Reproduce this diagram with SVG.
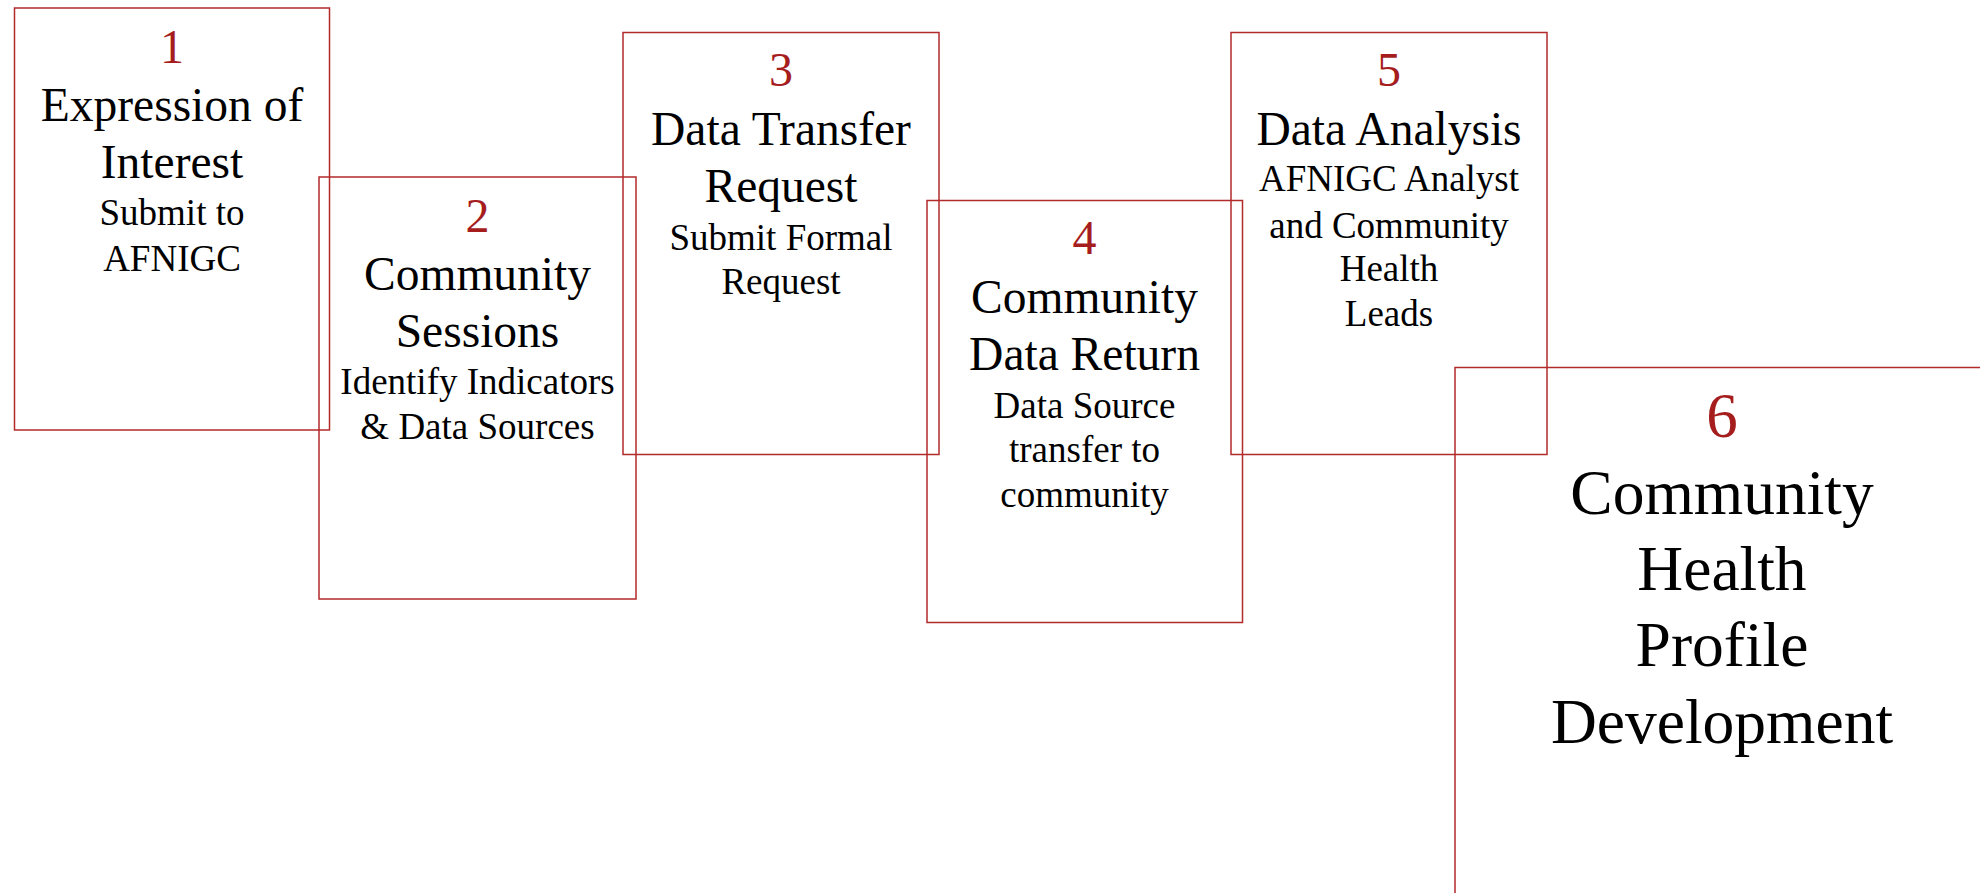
<svg xmlns="http://www.w3.org/2000/svg" width="1980" height="893" viewBox="0 0 1980 893">
  <style>
    .box { fill: none; stroke: #b32a2a; stroke-width: 1.5; }
    text { font-family: "Liberation Serif", "Times New Roman", serif; text-anchor: middle; }
    .num { fill: #a51d1d; font-size: 48px; }
    .title { fill: #000; font-size: 47.5px; }
    .sub { fill: #000; font-size: 37px; }
    .num6 { fill: #a51d1d; font-size: 63px; }
    .title6 { fill: #000; font-size: 63.5px; }
  </style>
  <rect width="1980" height="893" fill="#ffffff"/>

  <!-- step cards: outlines only, so overlapping edges stay visible -->
  <g id="step-1">
    <rect class="box" x="14.5" y="8" width="315" height="422"/>
    <text class="num" x="172" y="63">1</text>
    <text class="title" x="172" y="121">Expression of</text>
    <text class="title" x="172" y="177.5">Interest</text>
    <text class="sub" x="172" y="225">Submit to</text>
    <text class="sub" x="172" y="271">AFNIGC</text>
  </g>

  <g id="step-2">
    <rect class="box" x="319" y="177" width="317" height="422"/>
    <text class="num" x="477.5" y="232">2</text>
    <text class="title" x="477.5" y="289.5">Community</text>
    <text class="title" x="477.5" y="347">Sessions</text>
    <text class="sub" x="477.5" y="393.5">Identify Indicators</text>
    <text class="sub" x="477.5" y="439">&amp; Data Sources</text>
  </g>

  <g id="step-3">
    <rect class="box" x="623" y="32.5" width="316" height="422"/>
    <text class="num" x="781" y="86">3</text>
    <text class="title" x="781" y="144.5">Data Transfer</text>
    <text class="title" x="781" y="202">Request</text>
    <text class="sub" x="781" y="249.5">Submit Formal</text>
    <text class="sub" x="781" y="294">Request</text>
  </g>

  <g id="step-4">
    <rect class="box" x="927" y="200.5" width="315.5" height="422"/>
    <text class="num" x="1084.5" y="254">4</text>
    <text class="title" x="1084.5" y="313">Community</text>
    <text class="title" x="1084.5" y="370">Data Return</text>
    <text class="sub" x="1084.5" y="417.5">Data Source</text>
    <text class="sub" x="1084.5" y="462">transfer to</text>
    <text class="sub" x="1084.5" y="507">community</text>
  </g>

  <g id="step-5">
    <rect class="box" x="1231" y="32.5" width="316" height="422"/>
    <text class="num" x="1389" y="86">5</text>
    <text class="title" x="1389" y="144.5">Data Analysis</text>
    <text class="sub" x="1389" y="191">AFNIGC Analyst</text>
    <text class="sub" x="1389" y="237.5">and Community</text>
    <text class="sub" x="1389" y="281">Health</text>
    <text class="sub" x="1389" y="326">Leads</text>
  </g>

  <g id="step-6">
    <rect class="box" x="1455" y="367.5" width="534" height="715"/>
    <text class="num6" x="1722" y="437">6</text>
    <text class="title6" x="1722" y="514">Community</text>
    <text class="title6" x="1722" y="590">Health</text>
    <text class="title6" x="1722" y="666">Profile</text>
    <text class="title6" x="1722" y="742.5">Development</text>
  </g>

  <!-- the cards are linked by overlap only; no drawn connectors -->
  <g id="connectors"/>
</svg>
